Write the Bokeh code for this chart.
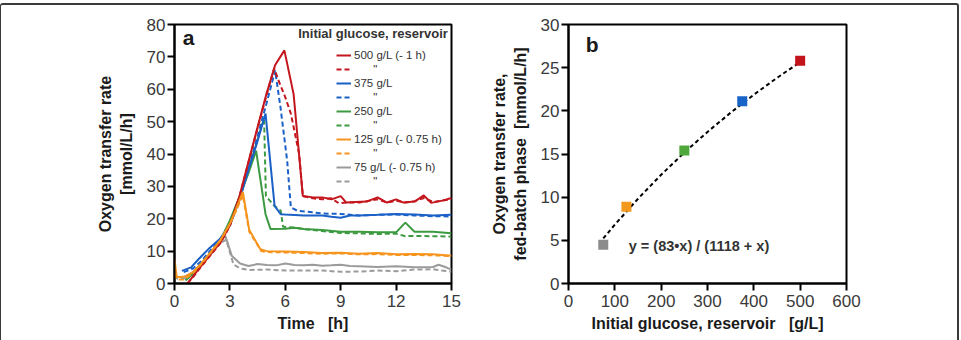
from bokeh.plotting import figure
from bokeh.layouts import row
from bokeh.models import Range1d, FixedTicker, Legend, LegendItem, Label
from bokeh.embed import file_html
from bokeh.resources import INLINE

FONT = "Liberation Sans"

# ---- Panel a: oxygen transfer rate [mmol/L/h] over time [h] ----
# two replicate cultures (solid / dashed) for each reservoir glucose concentration
t_500a = [0.7, 1.0, 1.5, 2.0, 2.5, 3.0, 3.5, 4.0, 4.5, 5.0, 5.45, 5.95, 6.45, 6.95, 7.5, 8.0, 8.5,
          9.0, 9.3, 9.8, 10.4, 11.0, 11.5, 12.0, 12.4, 13.0, 13.5, 13.9, 14.5, 15.0]
otr_500a = [0.0, 2.2, 5.8, 9.3, 12.8, 18.0, 26.6, 37.5, 48.3, 59.0, 67.5, 72.0, 58.5, 27.0, 26.6, 26.6, 26.0,
            27.0, 25.0, 25.2, 25.3, 26.6, 25.0, 26.0, 25.0, 25.3, 27.2, 24.9, 25.6, 26.4]
t_500b = [0.7, 1.0, 1.5, 2.0, 2.5, 3.0, 3.5, 4.0, 4.5, 5.0, 5.4, 5.6, 6.0, 6.3, 6.75, 6.95, 7.5, 8.0,
          8.5, 8.9, 9.3, 10.0, 10.5, 11.0, 11.5, 12.0, 12.5, 13.0, 13.5, 14.0, 14.5, 15.0]
otr_500b = [0.0, 2.0, 5.6, 9.1, 12.6, 17.8, 26.4, 37.3, 48.0, 58.5, 66.5, 63.2, 57.5, 52.5, 40.0, 27.0, 26.3, 26.0,
            26.3, 24.8, 25.0, 25.0, 25.5, 26.0, 25.0, 25.6, 25.0, 25.4, 26.4, 25.2, 25.6, 26.0]

t_375a = [0.4, 0.9, 1.3, 1.9, 2.5, 3.0, 3.5, 4.0, 4.5, 4.93, 5.42, 5.75, 6.0, 7.0, 8.0, 8.5, 9.0, 9.5,
          10.0, 11.0, 12.0, 13.0, 14.0, 15.0]
otr_375a = [3.9, 5.0, 7.5, 11.0, 14.0, 18.0, 25.5, 35.0, 44.0, 52.5, 24.0, 21.4, 21.3, 21.0, 21.0, 20.6, 20.3, 21.0,
            21.0, 21.2, 21.5, 21.3, 21.0, 21.2]
t_375b = [0.5, 1.0, 1.5, 2.0, 2.5, 3.0, 3.5, 4.0, 4.5, 5.0, 5.45, 5.74, 6.1, 6.3, 6.64, 7.5, 8.0, 9.0,
          10.0, 11.0, 12.0, 13.0, 14.0, 15.0]
otr_375b = [3.5, 4.6, 7.2, 10.6, 14.0, 18.0, 25.5, 35.5, 45.5, 56.0, 65.8, 54.4, 38.0, 23.5, 22.5, 22.0, 21.6, 21.5,
            21.0, 21.2, 21.3, 21.0, 20.8, 20.7]

t_250a = [0.6, 1.0, 1.5, 2.0, 2.5, 3.0, 3.5, 4.0, 4.42, 4.93, 5.2, 6.0, 6.5, 7.0, 8.0, 9.0, 10.0, 11.0,
          12.0, 12.5, 13.0, 14.0, 15.0]
otr_250a = [1.0, 3.0, 6.0, 9.5, 13.5, 19.5, 26.5, 34.0, 41.0, 21.4, 16.8, 16.9, 17.2, 16.8, 16.5, 16.0, 16.0, 15.8,
            15.8, 18.8, 16.0, 16.0, 15.5]
t_250b = [0.6, 1.0, 1.5, 2.0, 2.5, 3.0, 3.5, 4.0, 4.5, 4.85, 4.95, 5.4, 5.75, 5.88, 6.5, 7.0, 8.0, 9.0,
          10.0, 11.0, 12.0, 12.5, 13.0, 14.0, 15.0]
otr_250b = [1.0, 3.0, 6.0, 9.5, 13.5, 19.0, 26.0, 35.0, 44.5, 51.0, 27.0, 24.0, 22.5, 17.5, 17.3, 16.8, 16.2, 15.6,
            15.5, 15.3, 15.4, 14.6, 14.7, 14.6, 14.5]

t_125a = [0.0, 0.12, 0.3, 0.6, 1.0, 1.5, 2.0, 2.5, 3.0, 3.3, 3.7, 4.05, 4.65, 5.0, 6.0, 7.0, 8.0, 9.0,
          10.0, 11.0, 12.0, 13.0, 14.0, 15.0]
otr_125a = [7.5, 2.0, 2.0, 2.2, 3.5, 6.5, 10.0, 13.5, 18.5, 22.5, 28.3, 16.5, 10.6, 10.0, 9.9, 9.7, 9.4, 9.5,
            9.2, 9.4, 9.0, 9.1, 9.0, 8.6]
t_125b = [0.0, 0.15, 0.5, 1.0, 1.5, 2.0, 2.5, 3.0, 3.3, 3.7, 4.05, 4.7, 5.0, 6.0, 7.0, 8.0, 9.0, 10.0,
          11.0, 12.0, 13.0, 14.0, 15.0]
otr_125b = [3.0, 1.2, 1.2, 3.2, 6.3, 9.8, 13.5, 18.3, 22.0, 27.3, 16.0, 10.0, 9.7, 9.6, 9.4, 9.2, 9.3, 9.0,
            9.1, 8.8, 8.8, 8.7, 8.5]

t_75a = [0.0, 0.15, 0.5, 1.0, 1.5, 2.0, 2.4, 2.75, 3.1, 3.55, 4.0, 4.5, 5.0, 5.5, 6.0, 6.5, 7.0, 7.5,
         8.0, 8.5, 9.0, 9.5, 10.0, 11.0, 12.0, 13.0, 13.5, 14.0, 14.3, 14.7, 15.0]
otr_75a = [3.0, 2.0, 2.0, 3.5, 6.5, 9.8, 12.5, 14.7, 8.6, 6.2, 5.4, 6.0, 5.7, 5.6, 6.2, 5.7, 5.6, 5.8,
           5.5, 5.6, 5.8, 5.4, 5.3, 5.1, 5.3, 5.0, 5.0, 5.1, 5.8, 5.0, 4.3]
t_75b = [0.0, 0.15, 0.5, 1.0, 1.5, 2.0, 2.4, 2.8, 3.2, 3.6, 4.0, 5.0, 6.0, 7.0, 8.0, 9.0, 10.0, 11.0,
         12.0, 13.0, 14.0, 15.0]
otr_75b = [2.5, 1.5, 1.5, 3.3, 6.3, 9.6, 12.3, 13.5, 5.8, 4.6, 4.2, 4.3, 4.0, 4.0, 4.0, 3.6, 3.7, 4.0,
           3.8, 4.3, 4.4, 3.6]

legend_labels = ["500 g/L (- 1 h)", "375 g/L", "250 g/L", "125 g/L (- 0.75 h)", "75 g/L (- 0.75 h)"]
ditto = "\u00a0" * 6 + "\""
time_ticks = [0, 3, 6, 9, 12, 15]
otr_ticks = [0, 10, 20, 30, 40, 50, 60, 70, 80]

# ---- Panel b: fed-batch OTR versus initial reservoir glucose ----
glucose = [75, 125, 250, 375, 500]
otr_fed = [4.5, 8.9, 15.4, 21.1, 25.8]
fit_vmax = 83.0
fit_k = 1118.0
fit_glucose = [75, 100, 150, 200, 250, 300, 350, 400, 450, 500]
glucose_ticks = [0, 100, 200, 300, 400, 500, 600]
fed_ticks = [0, 5, 10, 15, 20, 25, 30]

RED, BLUE, GREEN, ORANGE, GRAY = "#c3161d", "#1a60c6", "#3c9a40", "#f7941d", "#9b9b9b"
marker_colors = ["#8c8c8c", "#f39a1e", "#4fa83a", "#1863c8", "#c3141c"]


def style(p, xticks, yticks, xlabel, ylabel):
    p.xgrid.visible = False
    p.ygrid.visible = False
    p.outline_line_color = "black"
    p.outline_line_width = 2
    p.background_fill_color = "white"
    p.border_fill_color = "white"
    p.xaxis.ticker = FixedTicker(ticks=xticks)
    p.yaxis.ticker = FixedTicker(ticks=yticks)
    p.xaxis.axis_label = xlabel
    p.yaxis.axis_label = ylabel
    for ax in (p.xaxis[0], p.yaxis[0]):
        ax.axis_line_color = "black"
        ax.axis_line_width = 2
        ax.major_tick_line_color = "black"
        ax.major_tick_line_width = 2
        ax.major_tick_out = 7
        ax.major_tick_in = 0
        ax.minor_tick_line_color = None
        ax.major_label_text_font = FONT
        ax.major_label_text_font_size = "17px"
        ax.major_label_text_color = "#3a3a3a"
        ax.axis_label_text_font = FONT
        ax.axis_label_text_font_size = "16px"
        ax.axis_label_text_font_style = "bold"
        ax.axis_label_text_color = "#1a1a1a"
    p.xaxis.major_label_standoff = 4
    p.yaxis.major_label_standoff = 2
    p.xaxis.axis_label_standoff = 5
    p.yaxis.axis_label_standoff = 9


# ---------------- panel a ----------------
pa = figure(width=479, height=335, x_range=Range1d(0, 15), y_range=Range1d(0, 80),
            output_backend="svg", toolbar_location=None,
            min_border_left=173, min_border_right=29, min_border_top=19, min_border_bottom=57)
style(pa, time_ticks, otr_ticks, "Time\u00a0\u00a0\u00a0[h]", "Oxygen transfer rate\n[mmol/L/h]")

series = {
    "500": (RED, t_500a, otr_500a, t_500b, otr_500b),
    "375": (BLUE, t_375a, otr_375a, t_375b, otr_375b),
    "250": (GREEN, t_250a, otr_250a, t_250b, otr_250b),
    "125": (ORANGE, t_125a, otr_125a, t_125b, otr_125b),
    "75": (GRAY, t_75a, otr_75a, t_75b, otr_75b),
}
renderers = {}
# drawing order: lowest runs at the back, red and orange on top
for key in ["75", "250", "375", "500", "125"]:
    col, ta, ya, tb, yb = series[key]
    rd = pa.line(tb, yb, line_color=col, line_width=2, line_dash="5 3")
    rs = pa.line(ta, ya, line_color=col, line_width=2)
    renderers[key] = (rs, rd)

items = []
for key, lab in zip(["500", "375", "250", "125", "75"], legend_labels):
    rs, rd = renderers[key]
    items.append(LegendItem(label=lab, renderers=[rs]))
    items.append(LegendItem(label=ditto, renderers=[rd]))

legend = Legend(items=items, location=(162, 95), orientation="vertical",
                padding=0, margin=0, spacing=0, glyph_width=15, glyph_height=14,
                label_height=14, label_standoff=3, border_line_color=None,
                background_fill_alpha=0, label_text_font=FONT,
                label_text_font_size="11.5px", label_text_color="#333333")
pa.add_layout(legend)

pa.add_layout(Label(x=14.8, y=77.2, text="Initial glucose, reservoir", text_align="right",
                    text_baseline="middle", text_font=FONT, text_font_size="13px",
                    text_font_style="bold", text_color="#333333"))
pa.add_layout(Label(x=0.45, y=76.0, text="a", text_align="left", text_baseline="middle",
                    text_font=FONT, text_font_size="21px", text_font_style="bold",
                    text_color="#1a1a1a"))

# ---------------- panel b ----------------
pb = figure(width=477, height=335, x_range=Range1d(0, 600), y_range=Range1d(0, 30),
            output_backend="svg", toolbar_location=None,
            min_border_left=88, min_border_right=111, min_border_top=19, min_border_bottom=57)
style(pb, glucose_ticks, fed_ticks, "Initial glucose, reservoir\u00a0\u00a0\u00a0[g/L]",
      "Oxygen transfer rate,\nfed-batch phase\u00a0\u00a0[mmol/L/h]")

# saturation fit y = vmax*x / (k + x) shown on the chart
fit_otr = [fit_vmax * g / (fit_k + g) for g in fit_glucose]
pb.line(fit_glucose, fit_otr, line_color="black", line_width=2, line_dash="4 3")
pb.scatter(glucose, otr_fed, marker="square", size=10, fill_color=marker_colors,
           line_color=None)

pb.add_layout(Label(x=130, y=4.3, text="y = (83\u2022x) / (1118 + x)", text_align="left",
                    text_baseline="middle", text_font=FONT, text_font_size="14.5px",
                    text_font_style="bold", text_color="#333333"))
pb.add_layout(Label(x=37, y=27.7, text="b", text_align="left", text_baseline="middle",
                    text_font=FONT, text_font_size="21px", text_font_style="bold",
                    text_color="#1a1a1a"))

layout = row(pa, pb, styles={
    "margin-top": "3px",
    "border-top": "2px solid #3a3a3a",
    "border-left": "1px solid #3a3a3a",
    "border-right": "2px solid #3a3a3a",
    "border-top-left-radius": "3px",
    "border-top-right-radius": "3px",
})

open("out.html", "w").write(file_html(layout, INLINE))
